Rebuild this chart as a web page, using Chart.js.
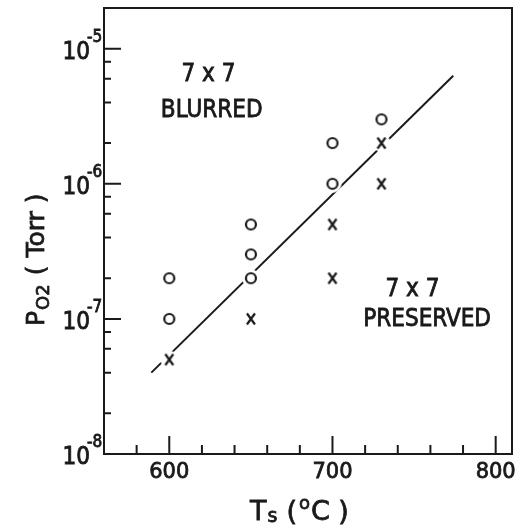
<!DOCTYPE html>
<html>
<head>
<meta charset="utf-8">
<script src="https://cdn.jsdelivr.net/npm/chart.js@4.4.1/dist/chart.umd.min.js"></script>
<style>
  body { margin: 0; background: #fff; }
</style>
</head>
<body>
<canvas id="myChart" width="522" height="528"></canvas>
<script>
// 7x7 blurred (open circles)
const blurredT = [600, 600, 650, 650, 650, 700, 700, 730];
const blurredP = [1e-7, 2e-7, 2e-7, 3e-7, 5e-7, 1e-6, 2e-6, 3e-6];
// 7x7 preserved (crosses)
const preservedT = [600, 650, 700, 700, 730, 730];
const preservedP = [5e-8, 1e-7, 2e-7, 5e-7, 1e-6, 2e-6];
// boundary line
const boundaryT = [589, 774];
const boundaryP = [4e-8, 6.3e-6];

// ticks
const xMajor = [600, 700, 800];
const xMinor = [580, 620, 640, 660, 680, 720, 740, 760, 780];
const yExponents = [-8, -7, -6, -5];
const yMinorMult = [2, 4, 6, 8];

const ink = '#1a1a1a';

function toPoints(xs, ys) {
    return xs.map((x, i) => ({x: x, y: ys[i]}));
}

function marker(kind) {
    const c = document.createElement('canvas');
    c.width = 20; c.height = 20;
    const g = c.getContext('2d');
    g.fillStyle = '#fff';
    g.beginPath(); g.arc(10, 10, 9, 0, 2 * Math.PI); g.fill();
    g.strokeStyle = ink;
    g.lineWidth = 2.2;
    g.beginPath();
    if (kind === 'o') {
        g.arc(10, 10, 5, 0, 2 * Math.PI);
    } else {
        g.moveTo(6, 4.5); g.lineTo(14, 15.5);
        g.moveTo(14, 4.5); g.lineTo(6, 15.5);
    }
    g.stroke();
    return c;
}

const condensed = "'DejaVu Sans Condensed', 'DejaVu Sans', sans-serif";
const plain = "'DejaVu Sans', sans-serif";

// filled text with a thin outline so it reads as heavy as the lettering in the original
function ink_text(ctx, s, x, y) {
    ctx.fillText(s, x, y);
    ctx.strokeText(s, x, y);
}

const decorations = {
    id: 'decorations',
    afterDraw(chart) {
        const ctx = chart.ctx;
        const a = chart.chartArea;
        const xs = chart.scales.x, ys = chart.scales.y;
        ctx.save();
        ctx.strokeStyle = ink;
        ctx.fillStyle = ink;
        ctx.lineWidth = 2;
        ctx.strokeRect(a.left, a.top, a.right - a.left, a.bottom - a.top);

        // x ticks (inward)
        ctx.beginPath();
        xMajor.forEach(v => {
            const px = xs.getPixelForValue(v);
            ctx.moveTo(px, a.bottom); ctx.lineTo(px, a.bottom - 18);
        });
        xMinor.forEach(v => {
            const px = xs.getPixelForValue(v);
            ctx.moveTo(px, a.bottom); ctx.lineTo(px, a.bottom - 9);
        });
        // y ticks
        yExponents.forEach(e => {
            const py = ys.getPixelForValue(Math.pow(10, e));
            if (e > -8) { ctx.moveTo(a.left, py); ctx.lineTo(a.left + 17, py); }
            yMinorMult.forEach(m => {
                const v = m * Math.pow(10, e);
                if (v <= ys.max) {
                    const p = ys.getPixelForValue(v);
                    ctx.moveTo(a.left, p); ctx.lineTo(a.left + 7, p);
                }
            });
        });
        ctx.stroke();

        ctx.lineWidth = 0.8;

        // x tick labels
        ctx.font = '21px ' + plain;
        ctx.textAlign = 'center';
        ctx.textBaseline = 'alphabetic';
        xMajor.forEach(v => {
            ink_text(ctx, String(v), xs.getPixelForValue(v), a.bottom + 24);
        });

        // y tick labels: 10 with superscript exponent
        yExponents.forEach(e => {
            const py = ys.getPixelForValue(Math.pow(10, e));
            ctx.textAlign = 'right';
            ctx.font = '24px ' + condensed;
            ink_text(ctx, '10', 90, py + 10);
            ctx.textAlign = 'left';
            ctx.font = '17px ' + condensed;
            ink_text(ctx, String(e), 87, py - 7);
        });

        // x title: Ts (°C )
        ctx.textAlign = 'left';
        let x = 250;
        const by = 520;
        ctx.font = '27px ' + plain;
        ink_text(ctx, 'T', x, by); x += ctx.measureText('T').width;
        ctx.font = '19px ' + plain;
        ink_text(ctx, 's', x + 1, by + 2); x += ctx.measureText('s').width + 10;
        ctx.font = '27px ' + plain;
        ink_text(ctx, '(', x, by); x += ctx.measureText('(').width + 2;
        ctx.font = '18px ' + plain;
        ink_text(ctx, 'o', x, by - 11); x += ctx.measureText('o').width + 1;
        ctx.font = '27px ' + plain;
        ink_text(ctx, 'C )', x, by);

        // y title: P O2 ( Torr )
        ctx.save();
        ctx.translate(44, 326);
        ctx.rotate(-Math.PI / 2);
        let t = 0;
        ctx.font = '25px ' + plain;
        ink_text(ctx, 'P', t, 0); t += ctx.measureText('P').width + 1;
        ctx.font = '18px ' + plain;
        ink_text(ctx, 'O2', t, 5); t += ctx.measureText('O2').width + 9;
        ctx.font = '25px ' + plain;
        ink_text(ctx, '( Torr )', t, 0);
        ctx.restore();

        // region annotations
        ctx.textAlign = 'center';
        ctx.textBaseline = 'middle';
        ctx.font = '24px ' + condensed;
        const notes = [
            ['7 x 7', 624, 6.4e-6],
            ['BLURRED', 626, 3.5e-6],
            ['7 x 7', 749, 1.64e-7],
            ['PRESERVED', 758, 9.8e-8]
        ];
        notes.forEach(n => {
            ink_text(ctx, n[0], xs.getPixelForValue(n[1]), ys.getPixelForValue(n[2]));
        });
        ctx.restore();
    }
};

const myChart = new Chart(document.getElementById('myChart'), {
    type: 'scatter',
    data: {
        datasets: [{
            label: '7x7 blurred',
            data: toPoints(blurredT, blurredP),
            pointStyle: marker('o'),
            order: 0
        }, {
            label: '7x7 preserved',
            data: toPoints(preservedT, preservedP),
            pointStyle: marker('x'),
            order: 1
        }, {
            label: 'boundary',
            type: 'line',
            data: toPoints(boundaryT, boundaryP),
            borderColor: ink,
            borderWidth: 2,
            pointRadius: 0,
            fill: false,
            order: 2
        }]
    },
    options: {
        responsive: false,
        animation: false,
        layout: { padding: { top: 8, right: 10, left: 0, bottom: 0 } },
        plugins: { legend: { display: false }, tooltip: { enabled: false } },
        scales: {
            x: {
                type: 'linear', min: 560, max: 810,
                grid: { display: false }, border: { display: false },
                ticks: { display: false },
                afterFit(scale) { scale.height = 74; }
            },
            y: {
                type: 'logarithmic', min: 1e-8, max: 2e-5,
                grid: { display: false }, border: { display: false },
                ticks: { display: false },
                afterFit(scale) { scale.width = 104; }
            }
        }
    },
    plugins: [decorations]
});
</script>
</body>
</html>
